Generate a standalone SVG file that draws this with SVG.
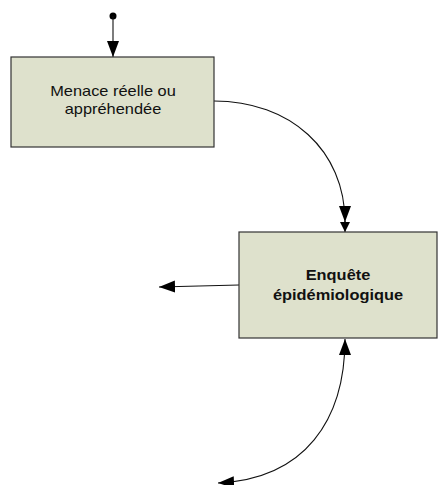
<svg xmlns="http://www.w3.org/2000/svg" width="440" height="485" viewBox="0 0 440 485">
  <style>
    .box { fill: #dee1cc; stroke: #333333; stroke-width: 1.2; }
    .lbl { font-family: "Liberation Sans", Arial, sans-serif; font-size: 14.5px; fill: #111111; text-anchor: middle; }
    .bold { font-weight: bold; }
    .wire { fill: none; stroke: #111111; stroke-width: 1.1; }
  </style>
  <defs>
    <marker id="tri" markerUnits="userSpaceOnUse" markerWidth="17" markerHeight="13" refX="16" refY="6" orient="auto-start-reverse">
      <path d="M0,0 L16,6 L0,12 z" fill="#000000"/>
    </marker>
    <marker id="triSmall" markerUnits="userSpaceOnUse" markerWidth="11" markerHeight="11" refX="10" refY="5" orient="auto">
      <path d="M0,0 L10,5 L0,10 z" fill="#000000"/>
    </marker>
  </defs>

  <!-- connectors -->
  <g id="connectors">
    <circle cx="113" cy="16" r="3.5" fill="#000000"/>
    <path class="wire" d="M113,16 L113,57" marker-end="url(#tri)"/>
    <path class="wire" d="M214,101 C290,101 345,150 345,222" marker-end="url(#tri)"/>
    <path class="wire" d="M345,221 L345,232" marker-end="url(#triSmall)"/>
    <path class="wire" d="M239,285 L159,287" marker-end="url(#tri)"/>
    <path class="wire" d="M345,339 C345,420 305,479 218,483" marker-start="url(#tri)" marker-end="url(#tri)"/>
  </g>

  <!-- threat node -->
  <g id="menace">
    <rect class="box" x="11" y="57" width="203" height="90"/>
    <g transform="translate(113,0) scale(1.13,1)">
      <text class="lbl" x="0" y="96">Menace réelle ou</text>
      <text class="lbl" x="0" y="114">appréhendée</text>
    </g>
  </g>

  <!-- investigation node -->
  <g id="enquete">
    <rect class="box" x="239" y="232" width="198" height="106"/>
    <g transform="translate(338,0) scale(1.13,1)">
      <text class="lbl bold" x="0" y="280">Enquête</text>
      <text class="lbl bold" x="0" y="300">épidémiologique</text>
    </g>
  </g>
</svg>
